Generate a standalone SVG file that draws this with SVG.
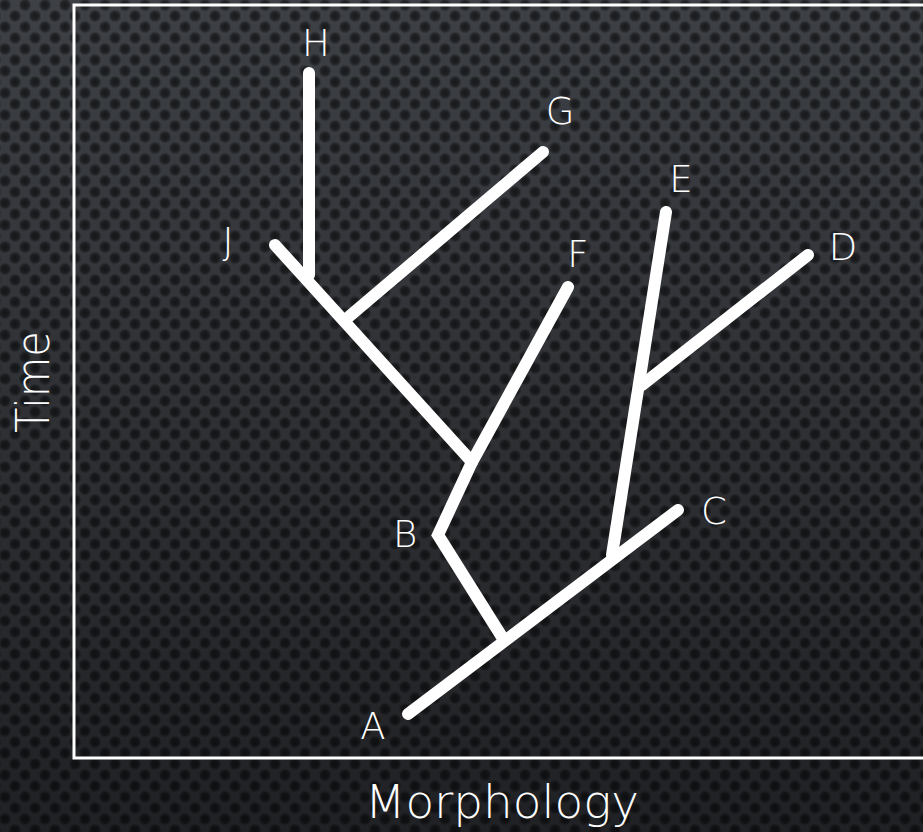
<svg xmlns="http://www.w3.org/2000/svg" width="923" height="832" viewBox="0 0 923 832">
  <defs>
    <linearGradient id="bg" x1="0" y1="0" x2="0" y2="1">
      <stop offset="0" stop-color="#3d4045"/>
      <stop offset="0.5" stop-color="#2e3034"/>
      <stop offset="1" stop-color="#202124"/>
    </linearGradient>
    <radialGradient id="dot">
      <stop offset="0" stop-color="#000" stop-opacity="0.6"/>
      <stop offset="0.6" stop-color="#000" stop-opacity="0.45"/>
      <stop offset="1" stop-color="#000" stop-opacity="0"/>
    </radialGradient>
    <pattern id="dots" width="20" height="22" patternUnits="userSpaceOnUse">
      <circle cx="5" cy="5" r="6.5" fill="url(#dot)"/>
      <circle cx="15" cy="16" r="6.5" fill="url(#dot)"/>
      <circle cx="-5" cy="16" r="6.5" fill="url(#dot)"/>
      <circle cx="25" cy="5" r="6.5" fill="url(#dot)"/>
      <circle cx="5" cy="27" r="6.5" fill="url(#dot)"/>
      <circle cx="15" cy="-6" r="6.5" fill="url(#dot)"/>
    </pattern>
    <style>
      .branch { fill: none; stroke: #ffffff; stroke-width: 12; stroke-linecap: round; stroke-linejoin: miter; }
      .label { fill: #ffffff; font-family: "DejaVu Sans", "Liberation Sans", sans-serif; font-weight: 200; font-size: 37px; text-anchor: middle; }
      .axis { fill: #ffffff; font-family: "DejaVu Sans", "Liberation Sans", sans-serif; font-weight: 200; font-size: 47px; text-anchor: middle; }
    </style>
  </defs>

  <!-- textured dark backdrop -->
  <rect width="923" height="832" fill="url(#bg)"/>
  <rect width="923" height="832" fill="url(#dots)"/>

  <!-- plot frame -->
  <rect x="74" y="5" width="860" height="753" fill="none" stroke="#ffffff" stroke-width="3"/>

  <!-- axis titles -->
  <text class="axis" x="502" y="818" textLength="274" lengthAdjust="spacingAndGlyphs">Morphology</text>
  <text class="axis" transform="translate(49 382) rotate(-90)" x="0" y="0" textLength="102" lengthAdjust="spacingAndGlyphs">Time</text>

  <!-- phylogeny branches -->
  <g id="connectors">
    <polyline class="branch" points="408,714 678,510"/>
    <polyline class="branch" points="502,637 438,535 472,462 568,287"/>
    <polyline class="branch" points="275,245 472,462"/>
    <polyline class="branch" points="309,73 309,275"/>
    <polyline class="branch" points="345,320 543,152"/>
    <polyline class="branch" points="612,555 666,212"/>
    <polyline class="branch" points="642,385 808,255"/>
  </g>

  <!-- taxon labels -->
  <g id="node-A"><text class="label" x="373" y="739">A</text></g>
  <g id="node-B"><text class="label" x="405" y="547">B</text></g>
  <g id="node-C"><text class="label" x="714" y="524">C</text></g>
  <g id="node-D"><text class="label" x="843" y="260">D</text></g>
  <g id="node-E"><text class="label" x="681" y="192">E</text></g>
  <g id="node-F"><text class="label" x="578" y="267">F</text></g>
  <g id="node-G"><text class="label" x="560" y="124">G</text></g>
  <g id="node-H"><text class="label" x="316" y="56">H</text></g>
  <g id="node-J"><text class="label" x="228" y="254">J</text></g>
</svg>
